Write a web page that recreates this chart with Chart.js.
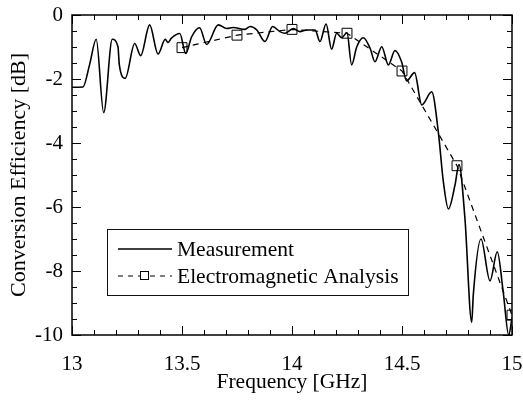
<!DOCTYPE html>
<html>
<head>
<meta charset="utf-8">
<script src="https://cdn.jsdelivr.net/npm/chart.js@4.4.0/dist/chart.umd.min.js"></script>
<style>
  html, body { margin: 0; padding: 0; background: #fff; }
  #wrap { width: 523px; height: 401px; }
</style>
</head>
<body>
<div id="wrap"><canvas id="chart"></canvas></div>
<script>
const measFreq = [
  13.000, 13.050, 13.080, 13.110, 13.144, 13.183, 13.209, 13.215, 13.242, 13.285,
  13.312, 13.353, 13.391, 13.424, 13.436, 13.451, 13.490, 13.517, 13.544, 13.580,
  13.612, 13.665, 13.703, 13.733, 13.786, 13.810, 13.840, 13.877, 13.912, 13.945,
  13.968, 14.006, 14.036, 14.067, 14.105, 14.127, 14.155, 14.180, 14.203, 14.226,
  14.250, 14.271, 14.294, 14.324, 14.355, 14.377, 14.408, 14.438, 14.468, 14.498,
  14.521, 14.557, 14.590, 14.635, 14.665, 14.688, 14.711, 14.741, 14.759, 14.786,
  14.817, 14.824, 14.859, 14.900, 14.933, 14.960, 14.985, 15.000
];
const measDb = [
  -2.26, -2.25, -1.55, -0.76, -3.05, -0.76, -0.99, -1.55, -1.98, -0.89,
  -1.27, -0.31, -1.22, -0.76, -0.86, -0.73, -0.58, -1.20, -0.68, -0.40,
  -0.92, -0.31, -0.42, -0.39, -0.45, -0.36, -0.47, -0.83, -0.36, -0.52,
  -0.57, -0.42, -0.52, -0.47, -0.47, -0.83, -0.28, -1.07, -0.57, -0.71,
  -0.55, -1.56, -1.00, -0.71, -1.04, -1.46, -0.99, -1.56, -1.11, -1.46,
  -2.06, -1.80, -2.81, -2.40, -3.65, -5.21, -6.06, -5.31, -4.67, -6.35,
  -9.60, -8.75, -7.00, -8.31, -7.40, -8.65, -10.0, -9.47
];

// electromagnetic analysis points
const emFreq = [13.5, 13.75, 14.0, 14.25, 14.5, 14.75, 15.0];
const emDb = [-1.02, -0.63, -0.45, -0.57, -1.75, -4.71, -9.38];

const xTicks = [13, 13.5, 14, 14.5, 15];
const yTicks = [0, -2, -4, -6, -8, -10];

const FONT = "'Liberation Serif', 'Times New Roman', serif";

const toPoints = (xs, ys) => xs.map((x, i) => ({ x, y: ys[i] }));

// box round the plot, with inward ticks on all four sides
const frame = {
  id: 'frame',
  afterDraw(chart) {
    const { ctx, chartArea: a, scales: { x, y } } = chart;
    ctx.save();
    ctx.strokeStyle = '#000';
    ctx.lineWidth = 1.5;
    ctx.strokeRect(a.left, a.top, a.right - a.left, a.bottom - a.top);
    ctx.lineWidth = 1;
    ctx.beginPath();
    for (let i = 0; i <= 20; i++) {
      const v = 13 + i * 0.1;
      const px = Math.round(x.getPixelForValue(v)) + 0.5;
      const len = i % 5 === 0 ? 9 : 5;
      ctx.moveTo(px, a.bottom); ctx.lineTo(px, a.bottom - len);
      ctx.moveTo(px, a.top); ctx.lineTo(px, a.top + len);
    }
    for (let i = 0; i <= 20; i++) {
      const v = -i * 0.5;
      const py = Math.round(y.getPixelForValue(v)) + 0.5;
      const len = i % 4 === 0 ? 9 : 5;
      ctx.moveTo(a.left, py); ctx.lineTo(a.left + len, py);
      ctx.moveTo(a.right, py); ctx.lineTo(a.right - len, py);
    }
    ctx.stroke();
    ctx.restore();
  }
};

// legend box inside the plot
const boxLegend = {
  id: 'boxLegend',
  afterDraw(chart) {
    const { ctx, chartArea: a } = chart;
    const left = a.left + 35, top = a.top + 214, w = 301, h = 66;
    ctx.save();
    ctx.fillStyle = '#fff';
    ctx.fillRect(left, top, w, h);
    ctx.strokeStyle = '#111';
    ctx.lineWidth = 1;
    ctx.strokeRect(left + 0.5, top + 0.5, w, h);

    const y1 = top + 20, y2 = top + 47;
    ctx.strokeStyle = '#000';
    ctx.lineWidth = 1.5;
    ctx.beginPath();
    ctx.moveTo(left + 11, y1); ctx.lineTo(left + 65, y1);
    ctx.stroke();

    ctx.setLineDash([5, 5]);
    ctx.lineWidth = 1.2;
    ctx.beginPath();
    ctx.moveTo(left + 11, y2); ctx.lineTo(left + 33, y2);
    ctx.moveTo(left + 43, y2); ctx.lineTo(left + 65, y2);
    ctx.stroke();
    ctx.setLineDash([]);
    ctx.lineWidth = 1;
    ctx.strokeRect(left + 33.5, y2 - 4.5, 8, 8);

    ctx.fillStyle = '#000';
    ctx.font = '21.5px ' + FONT;
    ctx.textBaseline = 'middle';
    ctx.fillText('Measurement', left + 70, y1 + 1);
    ctx.fillText('Electromagnetic Analysis', left + 70, y2 + 1);
    ctx.restore();
  }
};

const noOverflow = s => {
  s.paddingLeft = 0; s.paddingRight = 0;
  s.paddingTop = 0; s.paddingBottom = 0;
};

new Chart(document.getElementById('chart'), {
  type: 'line',
  data: {
    datasets: [
      {
        label: 'Measurement',
        data: toPoints(measFreq, measDb),
        borderColor: '#000',
        borderWidth: 1.6,
        pointRadius: 0,
        cubicInterpolationMode: 'monotone',
        fill: false
      },
      {
        label: 'Electromagnetic Analysis',
        data: toPoints(emFreq, emDb),
        borderColor: '#000',
        borderWidth: 1.2,
        borderDash: [6, 5],
        tension: 0,
        pointStyle: 'rect',
        pointRadius: 7,
        pointBorderWidth: 1,
        pointBorderColor: '#000',
        pointBackgroundColor: 'rgba(0,0,0,0)',
        fill: false
      }
    ]
  },
  options: {
    responsive: true,
    maintainAspectRatio: false,
    animation: false,
    layout: { padding: { left: 0, right: 11, top: 15, bottom: 0 } },
    plugins: {
      legend: { display: false },
      tooltip: { enabled: false }
    },
    scales: {
      x: {
        type: 'linear',
        min: 13,
        max: 15,
        afterBuildTicks: s => { s.ticks = xTicks.map(v => ({ value: v })); },
        afterFit: s => { s.height = 66; noOverflow(s); },
        grid: { display: false, drawTicks: false },
        border: { display: false },
        ticks: {
          color: '#000',
          padding: 17,
          maxRotation: 0,
          font: { family: FONT, size: 21 },
          callback: v => String(v)
        },
        title: {
          display: true,
          text: 'Frequency [GHz]',
          color: '#000',
          padding: { top: 0, bottom: 6 },
          font: { family: FONT, size: 21.5 }
        }
      },
      y: {
        type: 'linear',
        min: -10,
        max: 0,
        afterBuildTicks: s => { s.ticks = yTicks.map(v => ({ value: v })); },
        afterFit: s => { s.width = 72; noOverflow(s); },
        grid: { display: false, drawTicks: false },
        border: { display: false },
        ticks: {
          color: '#000',
          padding: 9,
          font: { family: FONT, size: 21 },
          callback: v => String(v)
        },
        title: {
          display: true,
          text: 'Conversion Efficiency [dB]',
          color: '#000',
          padding: { top: 6, bottom: 0 },
          font: { family: FONT, size: 22 }
        }
      }
    }
  },
  plugins: [frame, boxLegend]
});
</script>
</body>
</html>
